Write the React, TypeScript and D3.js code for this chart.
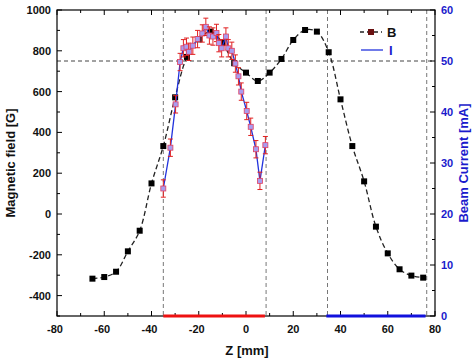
import React from "react";
import * as d3 from "d3";

const bZ = [-65, -60, -55, -50, -45, -40, -35, -30, -25, -20, -15, -10, -5, 0, 5, 10, 15, 20, 25, 30, 35, 40, 45, 50, 55, 60, 65, 70, 75];
const bVal = [-317, -309, -283, -183, -82, 150, 333, 572, 770, 856, 894, 840, 739, 693, 652, 693, 760, 853, 902, 894, 793, 562, 333, 160, -62, -193, -271, -302, -312];

const iZ = [-35, -32, -29.8, -27.9, -26.5, -25.2, -24.2, -22.5, -20.5, -18.5, -17, -15.5, -14, -12.5, -11.5, -10.3, -8.5, -7.5, -6, -4.5, -3.2, -2, 0.3, 2, 4.2, 5.9, 8.2];
const iVal = [25, 33, 41.5, 49.8, 52.5, 52.8, 51.8, 53, 54.3, 55.4, 56.7, 55, 54.8, 55.5, 53.5, 52.5, 54.8, 52.5, 52, 49.5, 47, 44, 40.2, 37.1, 32.7, 26.5, 33.5];
const iErr = 1.7;

const xTicks = [-80, -60, -40, -20, 0, 20, 40, 60, 80];
const yLeftTicks = [-400, -200, 0, 200, 400, 600, 800, 1000];
const yRightTicks = [0, 10, 20, 30, 40, 50, 60];
const vLines = [-35, 8.5, 34.5, 76.5];
const hLineB = 750;
const redSpan = [-35, 8];
const blueSpan = [34, 76];

const W = 474, H = 362;
const L = 57, R = 435, T = 10, B = 316;

export default function App() {
  const x = d3.scaleLinear().domain([-80, 80]).range([L, R]);
  const yL = d3.scaleLinear().domain([-500, 1000]).range([B, T]);
  const yR = d3.scaleLinear().domain([0, 60]).range([B, T]);
  const font = "'Liberation Sans', Arial, sans-serif";

  const bPts = bZ.map((z, i) => [x(z), yL(bVal[i])] as [number, number]);
  const bLine = d3.line().curve(d3.curveCatmullRom.alpha(0.5))(bPts) || "";
  const iPts = iZ.map((z, i) => [x(z), yR(iVal[i])] as [number, number]);
  const iLine = d3.line()(iPts) || "";

  const xMinor = d3.range(-80, 81, 10);
  const yLMinor = d3.range(-500, 1001, 100);
  const yRMinor = d3.range(0, 61, 5);

  return (
    <svg width={W} height={H} style={{ position: "absolute", left: 0, top: 0, background: "#fff" }} fontFamily={font}>
      {vLines.map((v, k) => (
        <line key={"v" + k} x1={x(v)} x2={x(v)} y1={T} y2={B} stroke="#777" strokeWidth={1} strokeDasharray="4,3" />
      ))}
      <line x1={L} x2={R} y1={yL(hLineB)} y2={yL(hLineB)} stroke="#444" strokeWidth={1} strokeDasharray="4,3" />

      <path d={bLine} fill="none" stroke="#222" strokeWidth={1.3} strokeDasharray="5,3" />
      {bPts.map((p, k) => (
        <rect key={"b" + k} x={p[0] - 3} y={p[1] - 3} width={6} height={6} fill="#000" />
      ))}

      <path d={iLine} fill="none" stroke="#2233dd" strokeWidth={1.3} />
      {iPts.map((p, k) => {
        const y1 = yR(iVal[k] + iErr), y2 = yR(iVal[k] - iErr);
        return (
          <g key={"i" + k}>
            <line x1={p[0]} x2={p[0]} y1={y1} y2={y2} stroke="#e02020" strokeWidth={1} />
            <line x1={p[0] - 2.5} x2={p[0] + 2.5} y1={y1} y2={y1} stroke="#e02020" strokeWidth={1} />
            <line x1={p[0] - 2.5} x2={p[0] + 2.5} y1={y2} y2={y2} stroke="#e02020" strokeWidth={1} />
            <rect x={p[0] - 2.5} y={p[1] - 2.5} width={5} height={5} fill="#a99cf0" stroke="#e04060" strokeWidth={0.8} />
          </g>
        );
      })}

      <rect x={L} y={T} width={R - L} height={B - T} fill="none" stroke="#000" strokeWidth={1.2} />

      {xMinor.map((v) => {
        const major = v % 20 === 0;
        const len = major ? 5 : 3;
        return (
          <g key={"xt" + v}>
            <line x1={x(v)} x2={x(v)} y1={B} y2={B - len} stroke="#000" />
            <line x1={x(v)} x2={x(v)} y1={T} y2={T + len} stroke="#000" />
          </g>
        );
      })}
      {xTicks.map((v) => (
        <text key={"xl" + v} x={x(v) - (v < 0 ? 2 : 0)} y={333} textAnchor="middle" fontSize={11} fontWeight="bold" fill="#111">{v}</text>
      ))}

      {yLMinor.map((v) => {
        const major = v % 200 === 0;
        const len = major ? 5 : 3;
        return <line key={"yl" + v} x1={L} x2={L + len} y1={yL(v)} y2={yL(v)} stroke="#000" />;
      })}
      {yLeftTicks.map((v) => (
        <text key={"yll" + v} x={51} y={yL(v) + 4} textAnchor="end" fontSize={11} fontWeight="bold" fill="#111">{v}</text>
      ))}

      {yRMinor.map((v) => {
        const major = v % 10 === 0;
        const len = major ? 5 : 3;
        return <line key={"yr" + v} x1={R} x2={R - len} y1={yR(v)} y2={yR(v)} stroke="#000" />;
      })}
      {yRightTicks.map((v) => (
        <text key={"yrl" + v} x={441} y={yR(v) + 4} textAnchor="start" fontSize={11} fontWeight="bold" fill="#1a1acc">{v}</text>
      ))}

      <line x1={x(redSpan[0])} x2={x(redSpan[1])} y1={B} y2={B} stroke="#ee1111" strokeWidth={3} />
      <line x1={x(blueSpan[0])} x2={x(blueSpan[1])} y1={B} y2={B} stroke="#1111dd" strokeWidth={3} />

      <text x={247} y={355} textAnchor="middle" fontSize={13} fontWeight="bold" fill="#111">Z [mm]</text>
      <text transform={`translate(15,${(T + B) / 2}) rotate(-90)`} textAnchor="middle" fontSize={13} fontWeight="bold" fill="#111">Magnetic field [G]</text>
      <text transform={`translate(468,${(T + B) / 2}) rotate(-90)`} textAnchor="middle" fontSize={13} fontWeight="bold" fill="#1a1acc">Beam Current [mA]</text>

      <line x1={360} x2={382} y1={32} y2={32} stroke="#222" strokeWidth={1.3} strokeDasharray="4,3" />
      <rect x={368} y={29} width={6} height={6} fill="#6a1010" />
      <text x={387} y={37} fontSize={13} fontWeight="bold" fill="#111">B</text>
      <line x1={361} x2={383} y1={50} y2={50} stroke="#2233dd" strokeWidth={1.3} />
      <text x={389} y={55} fontSize={13} fontWeight="bold" fill="#1a1acc">I</text>
    </svg>
  );
}
